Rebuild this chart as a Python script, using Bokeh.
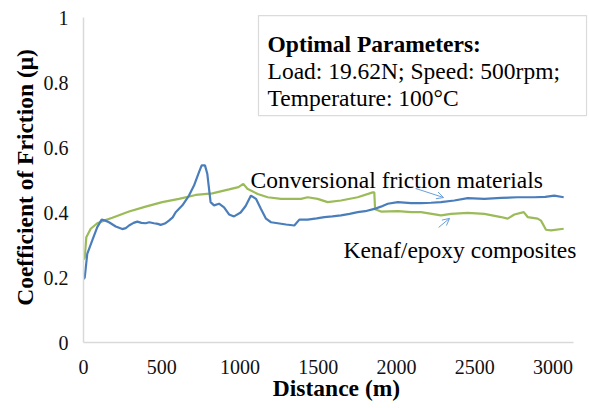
from bokeh.plotting import figure
from bokeh.models import Range1d, BoxAnnotation, Label, Arrow, OpenHead, FixedTicker
from bokeh.embed import file_html
from bokeh.resources import INLINE

# ---- data ----
blue_x = [0, 8, 24, 56, 88, 116, 140, 163, 206, 248, 270, 291, 320, 344, 370, 397, 420,
          450, 475, 493, 520, 546, 570, 589, 632, 674, 706, 738, 755, 776, 791, 812, 834,
          866, 898, 930, 962, 1004, 1036, 1070, 1102, 1134, 1166, 1198, 1241, 1294, 1347,
          1379, 1432, 1490, 1539, 1590, 1645, 1700, 1752, 1800, 1858, 1900, 1944, 2008,
          2093, 2157, 2220, 2284, 2369, 2455, 2561, 2668, 2774, 2880, 2950, 3008, 3068]
blue_y = [0.195, 0.200, 0.273, 0.314, 0.355, 0.378, 0.375, 0.370, 0.357, 0.349, 0.352,
          0.360, 0.368, 0.372, 0.368, 0.367, 0.370, 0.367, 0.365, 0.362, 0.366, 0.375,
          0.385, 0.401, 0.422, 0.452, 0.483, 0.524, 0.545, 0.545, 0.519, 0.432, 0.422,
          0.427, 0.416, 0.394, 0.388, 0.400, 0.420, 0.452, 0.442, 0.411, 0.381, 0.370,
          0.367, 0.363, 0.360, 0.378, 0.378, 0.382, 0.386, 0.388, 0.391, 0.396, 0.401,
          0.404, 0.411, 0.418, 0.427, 0.432, 0.429, 0.429, 0.430, 0.432, 0.437, 0.444,
          0.442, 0.445, 0.447, 0.447, 0.448, 0.452, 0.447]

green_x = [0, 8, 18, 46, 88, 131, 184, 291, 397, 503, 610, 717, 823, 930, 990, 1021, 1047,
           1113, 1177, 1262, 1390, 1432, 1496, 1560, 1645, 1752, 1848, 1858, 1863, 1901,
           2008, 2093, 2157, 2284, 2348, 2455, 2561, 2668, 2710, 2753, 2813, 2838, 2902,
           2923, 2955, 2987, 3068]
green_y = [0.255, 0.262, 0.324, 0.350, 0.367, 0.375, 0.384, 0.403, 0.418, 0.432, 0.442,
           0.454, 0.459, 0.471, 0.478, 0.488, 0.473, 0.457, 0.447, 0.442, 0.442, 0.447,
           0.442, 0.432, 0.437, 0.447, 0.462, 0.462, 0.410, 0.403, 0.404, 0.401, 0.401,
           0.391, 0.396, 0.399, 0.396, 0.386, 0.381, 0.394, 0.401, 0.386, 0.381, 0.375,
           0.347, 0.345, 0.350]

x_ticks = [0, 500, 1000, 1500, 2000, 2500, 3000]
y_ticks = [0, 0.2, 0.4, 0.6, 0.8, 1]
y_tick_labels = ["0", "0.2", "0.4", "0.6", "0.8", "1"]

FONT = "Liberation Serif"

p = figure(width=589, height=408, x_range=Range1d(0, 3233), y_range=Range1d(0, 1.0154),
           output_backend="svg", toolbar_location=None,
           min_border_left=83, min_border_right=0, min_border_top=12, min_border_bottom=66)
p.outline_line_color = None
p.xgrid.grid_line_color = None
p.ygrid.grid_line_color = None
p.background_fill_color = "white"
p.border_fill_color = "white"

for ax in (p.xaxis[0], p.yaxis[0]):
    ax.axis_line_color = "#D9D9D9"
    ax.axis_line_width = 1.5
    ax.major_tick_line_color = None
    ax.minor_tick_line_color = None
    ax.major_label_text_font = FONT
    ax.major_label_text_font_size = "20px"
    ax.major_label_text_color = "#111111"
    ax.axis_label_text_font = FONT
    ax.axis_label_text_font_size = "23.5px"
    ax.axis_label_text_font_style = "bold"
    ax.axis_label_text_color = "#000000"

p.xaxis.ticker = FixedTicker(ticks=x_ticks)
p.yaxis.ticker = FixedTicker(ticks=y_ticks)
p.xaxis.bounds = (0, 3130)
p.yaxis.bounds = (0, 1)
p.yaxis.major_label_overrides = {t: s for t, s in zip(y_ticks, y_tick_labels)}
p.xaxis.axis_label = "Distance (m)"
p.yaxis.axis_label = "Coefficient of Friction (μ)"
p.xaxis.major_label_standoff = 11
p.yaxis.major_label_standoff = 9
p.xaxis.axis_label_standoff = -2
p.yaxis.axis_label_standoff = 3

p.line(green_x, green_y, line_color="#9BBB59", line_width=2.2)
p.line(blue_x, blue_y, line_color="#4A7EBB", line_width=2.2)

# parameter box
p.add_layout(BoxAnnotation(left=1118, right=3214, top=1.006, bottom=0.698,
                           fill_color="white", fill_alpha=1.0,
                           line_color="#888888", line_width=1.2))
for txt, yy, style in [("Optimal Parameters:", 0.917, "bold"),
                       ("Load: 19.62N; Speed: 500rpm;", 0.834, "normal"),
                       ("Temperature: 100°C", 0.751, "normal")]:
    p.add_layout(Label(x=1176, y=yy, text=txt, text_font=FONT, text_font_size="23.5px",
                       text_font_style=style, text_color="#000000",
                       text_baseline="alphabetic", text_align="left"))

p.add_layout(Label(x=1067, y=0.5015, text="Conversional friction materials", text_font=FONT,
                   text_font_size="23.5px", text_color="#000000",
                   text_baseline="alphabetic"))
p.add_layout(Label(x=1661, y=0.286, text="Kenaf/epoxy composites", text_font=FONT,
                   text_font_size="23.5px", text_color="#000000",
                   text_baseline="alphabetic"))

p.add_layout(Arrow(x_start=2122, y_start=0.474, x_end=2301, y_end=0.446,
                   line_color="#6A9FD8", line_width=1,
                   end=OpenHead(size=7, line_color="#6A9FD8", line_width=1)))
p.add_layout(Arrow(x_start=2269, y_start=0.354, x_end=2339, y_end=0.382,
                   line_color="#6A9FD8", line_width=1,
                   end=OpenHead(size=7, line_color="#6A9FD8", line_width=1)))

open("out.html", "w").write(file_html(p, INLINE))
